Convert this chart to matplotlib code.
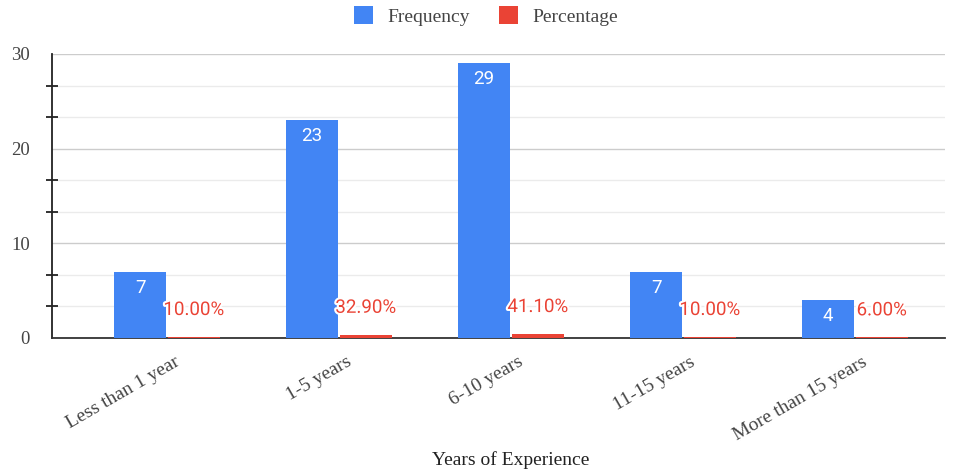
import matplotlib
matplotlib.use("Agg")
import matplotlib.pyplot as plt
from matplotlib.ticker import MultipleLocator
from matplotlib.transforms import ScaledTranslation
import matplotlib.patheffects as pe
import numpy as np

categories = ["Less than 1 year", "1-5 years", "6-10 years", "11-15 years", "More than 15 years"]
frequency = [7, 23, 29, 7, 4]
percentage = [0.10, 0.329, 0.411, 0.10, 0.06]
pct_labels = ["10.00%", "32.90%", "41.10%", "10.00%", "6.00%"]

blue = "#4285F4"
red = "#EA4335"
serif = ["Liberation Serif", "DejaVu Serif"]

fig = plt.figure(figsize=(9.6, 4.72), dpi=100)
ax = fig.add_axes([52/960, (472-338)/472, 893/960, 284/472])

x = np.arange(len(categories))
w = 0.30
gap = 0.006
b1 = ax.bar(x - w/2 - gap, frequency, w, color=blue, label="Frequency", zorder=3)
b2 = ax.bar(x + w/2 + gap, percentage, w, color=red, label="Percentage", zorder=3)

for rect, v in zip(b1, frequency):
    ax.annotate(str(v), (rect.get_x() + rect.get_width()/2, v), xytext=(0, -5),
                textcoords="offset points", ha="center", va="top", color="white",
                fontsize=13.5, family=["Roboto", "DejaVu Sans"], zorder=5)
for rect, v, lab in zip(b2, percentage, pct_labels):
    ax.annotate(lab, (rect.get_x() + rect.get_width()/2, v), xytext=(0, 19.5),
                textcoords="offset points", ha="center", va="center", color=red,
                fontsize=13.5, family=["Roboto", "DejaVu Sans"], zorder=6,
                path_effects=[pe.withStroke(linewidth=3, foreground="white")])

ax.set_ylim(0, 30)
ax.set_xlim((52-167)/172, (945-167)/172)
ax.yaxis.set_major_locator(MultipleLocator(10))
ax.yaxis.set_minor_locator(MultipleLocator(10/3))
ax.grid(axis="y", which="major", color="#cccccc", linewidth=1, zorder=0)
ax.grid(axis="y", which="minor", color="#ebebeb", linewidth=1, zorder=0)
ax.set_axisbelow(True)

for s in ["top", "right"]:
    ax.spines[s].set_visible(False)
ax.spines["left"].set_color("#222222")
ax.spines["left"].set_linewidth(1.3)
ax.spines["bottom"].set_color("#333333")
ax.spines["bottom"].set_linewidth(1.3)

ax.tick_params(axis="y", which="major", length=0, labelsize=13.5, labelcolor="#444444", pad=16)
ax.tick_params(axis="y", which="minor", length=8, width=1.3, direction="inout", color="#222222")
ax.tick_params(axis="x", length=0, labelsize=14, labelcolor="#444444", pad=11)
for t in ax.get_yticklabels():
    t.set_family(serif)

ax.set_xticks(x)
ax.set_xticklabels(categories, rotation=30, ha="right", rotation_mode="anchor", family=serif)
shift = ScaledTranslation(7/100, 0, fig.dpi_scale_trans)
for t in ax.get_xticklabels():
    t.set_transform(t.get_transform() + shift)

fig.text(511/960, 1 - 460/472, "Years of Experience", family=serif, fontsize=14,
         color="#222222", ha="center", va="center")

leg = fig.legend(handles=[b1, b2], labels=["Frequency", "Percentage"], loc="center",
                 bbox_to_anchor=(486/960, 1 - 16/472), ncol=2, frameon=False,
                 prop={"family": serif, "size": 14}, handlelength=1.0, handleheight=1.0,
                 columnspacing=1.45, handletextpad=0.75)
for t in leg.get_texts():
    t.set_color("#444444")

fig.savefig("out.png", dpi=100)
